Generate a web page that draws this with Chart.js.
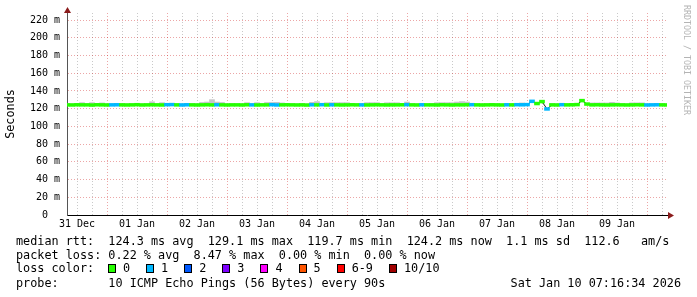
<!DOCTYPE html>
<html>
<head>
<meta charset="utf-8">
<script src="https://cdn.jsdelivr.net/npm/chart.js@4/dist/chart.umd.min.js"></script>
<style>
html, body { margin: 0; padding: 0; background: #fff; }
#wrap { position: relative; width: 697px; height: 297px; overflow: hidden; background: #fff; }
#wrap canvas { position: absolute; left: 0; top: 0; }
.row { position: absolute; left: 16px; font-family: "DejaVu Sans Mono", monospace; font-size: 11.8px; line-height: 14px; white-space: pre; color: #000; }
#swatches { position: absolute; left: 92px; top: 0; display: flex; align-items: center; height: 14px; }
.box { display: inline-block; width: 6px; height: 7px; border: 1px solid #000; margin-right: 7px; }
.lbl { margin-right: 16px; }
#stamp { position: absolute; right: 16px; top: 276px; font-family: "DejaVu Sans Mono", monospace; font-size: 11.8px; line-height: 14px; white-space: pre; color: #000; }
#mark { position: absolute; left: 682px; top: 5px; writing-mode: vertical-rl; font-family: "DejaVu Sans Mono", monospace; font-size: 8.3px; line-height: 10px; color: #b4b4b4; white-space: pre; }
</style>
</head>
<body>
<div id="wrap">
  <canvas id="chart" width="697" height="297"></canvas>
  <div class="row" style="top:234px">median rtt:  124.3 ms avg  129.1 ms max  119.7 ms min  124.2 ms now  1.1 ms sd  112.6   am/s</div>
  <div class="row" style="top:248px">packet loss: 0.22 % avg  8.47 % max  0.00 % min  0.00 % now</div>
  <div class="row" id="lossrow" style="top:261px">loss color:</div>
  <div class="row" style="top:276px">probe:       10 ICMP Echo Pings (56 Bytes) every 90s</div>
  <div id="stamp">Sat Jan 10 07:16:34 2026</div>
  <div id="mark">RRDTOOL / TOBI OETIKER</div>
</div>
<script>
// day labels, centred on noon of each day
const dayLabels = ['31 Dec', '01 Jan', '02 Jan', '03 Jan', '04 Jan', '05 Jan', '06 Jan', '07 Jan', '08 Jan', '09 Jan'];

// median rtt in ms, one sample every 2 hours
const medianMs = [
  124.3, 124.2, 124.4, 124.3, 124.3, 124.1, 124.4, 124.3, 124.2, 124.3,
  124.4, 124.3, 124.2, 124.3, 124.5, 124.2, 124.3, 124.4, 124.3, 124.2,
  124.5, 124.6, 124.3, 124.2, 124.4, 124.3, 124.2, 124.3, 124.4, 124.3,
  124.4, 124.3, 124.2, 124.3, 124.3, 124.2, 124.4, 124.3, 124.2, 124.3,
  124.3, 124.5, 124.2, 124.3, 124.4, 124.3, 124.2, 124.3, 124.1, 124.4,
  124.3, 124.5, 124.2, 124.4, 124.3, 124.2, 124.3, 124.4, 124.3, 124.3,
  124.2, 124.3, 124.4, 124.3, 124.2, 124.3, 124.3, 124.4, 124.5, 124.3,
  124.2, 124.4, 124.3, 124.3, 124.2, 124.4, 124.3, 124.2, 124.3, 124.3,
  124.4, 124.5, 124.3, 124.2, 124.3, 124.4, 124.3, 124.2, 124.4, 124.3,
  124.5, 124.4, 124.6, 128.3, 125.8, 128.0, 119.7, 124.3, 124.2, 124.5,
  124.3, 124.4, 124.6, 129.1, 125.2, 124.3, 124.4, 124.3, 124.2, 124.3,
  124.4, 124.3, 124.2, 124.3, 124.4, 124.3, 124.2, 124.3, 124.4, 124.3, 124.2
];

// highest ping of each sample (grey smoke above the median)
const smokeHighMs = [
  125.5, 125.5, 125.5, 126.8, 125.5, 126.8, 125.5, 126.5, 125.5, 125.5,
  125.5, 125.5, 125.5, 125.5, 125.5, 125.5, 125.5, 127.8, 125.5, 126.8,
  125.5, 125.5, 125.5, 125.5, 125.5, 125.5, 125.5, 127.0, 127.5, 130.2,
  127.5, 127.0, 125.5, 125.5, 125.5, 125.5, 126.8, 125.5, 126.8, 125.5,
  127.0, 127.0, 127.2, 126.5, 125.5, 125.5, 125.5, 125.5, 125.5, 127.2,
  128.0, 125.5, 126.8, 126.8, 126.8, 126.8, 126.8, 125.5, 125.5, 125.5,
  126.8, 126.8, 126.8, 125.5, 126.7, 126.7, 126.7, 125.5, 127.5, 125.5,
  125.5, 125.5, 125.5, 125.5, 126.8, 126.8, 126.8, 126.8, 127.5, 128.0,
  127.5, 125.5, 125.5, 125.5, 125.5, 125.5, 125.5, 125.5, 125.5, 125.5,
  125.5, 126.5, 125.5, 128.3, 125.8, 128.0, 119.7, 125.5, 125.5, 125.5,
  125.5, 125.5, 125.5, 129.1, 125.2, 126.5, 126.5, 126.5, 126.5, 127.2,
  126.5, 125.5, 125.5, 126.6, 126.6, 126.6, 125.5, 125.5, 125.5, 125.5, 125.5
];

// lost pings (out of 10) per sample
const lossPings = [
  0, 0, 0, 0, 0, 0, 0, 0, 0, 1,
  1, 0, 0, 0, 0, 0, 0, 0, 0, 0,
  1, 1, 0, 1, 1, 0, 0, 0, 0, 0,
  1, 0, 0, 0, 0, 0, 0, 1, 0, 0,
  0, 1, 1, 0, 0, 0, 0, 0, 0, 1,
  0, 1, 0, 1, 0, 0, 0, 0, 0, 1,
  0, 0, 0, 0, 0, 0, 0, 0, 1, 0,
  0, 1, 0, 0, 0, 0, 0, 0, 0, 0,
  0, 1, 0, 0, 0, 0, 0, 0, 1, 0,
  1, 1, 1, 1, 0, 0, 1, 0, 0, 1,
  0, 0, 0, 0, 0, 0, 0, 0, 0, 0,
  0, 0, 0, 0, 0, 0, 1, 1, 1, 0, 0
];

const lossLabels = ['0', '1', '2', '3', '4', '5', '6-9', '10/10'];
const lossColors = ['#26ff00', '#00b8ff', '#0059ff', '#7e00ff', '#ff00ff', '#ff5500', '#ff0000', '#a10000'];

const FONT = 'DejaVu Sans Mono';
const majorGrid = 'rgba(200,0,0,0.35)';
const minorGrid = 'rgba(120,120,120,0.4)';
const bandHalf = 1.6;

const hours = medianMs.map((_, i) => i * 2);
const xGridHours = [];
for (let h = 4; h < 240; h += 6) xGridHours.push(h);
const yGridMs = [];
for (let v = 0; v <= 220; v += 10) yGridMs.push(v);

const lossColor = n => n >= 10 ? lossColors[7] : n >= 6 ? lossColors[6] : lossColors[n];

// legend swatches
const sw = document.createElement('div');
sw.id = 'swatches';
lossLabels.forEach((l, i) => {
    const b = document.createElement('span');
    b.className = 'box';
    b.style.background = lossColors[i];
    const t = document.createElement('span');
    t.className = 'lbl';
    t.textContent = l;
    sw.appendChild(b);
    sw.appendChild(t);
});
document.getElementById('lossrow').appendChild(sw);

const axisArrows = {
    id: 'axisArrows',
    afterDraw(chart) {
        const { ctx, chartArea: a } = chart;
        ctx.save();
        ctx.fillStyle = '#8b1c1c';
        ctx.beginPath();
        ctx.moveTo(a.left - 3, a.top);
        ctx.lineTo(a.left + 4, a.top);
        ctx.lineTo(a.left + 0.5, a.top - 6);
        ctx.closePath();
        ctx.fill();
        ctx.strokeStyle = '#000';
        ctx.beginPath();
        ctx.moveTo(a.right, a.bottom + 0.5);
        ctx.lineTo(a.right + 2, a.bottom + 0.5);
        ctx.stroke();
        ctx.beginPath();
        ctx.moveTo(a.right + 1, a.bottom - 3);
        ctx.lineTo(a.right + 1, a.bottom + 4);
        ctx.lineTo(a.right + 7, a.bottom + 0.5);
        ctx.closePath();
        ctx.fill();
        ctx.restore();
    }
};

new Chart('chart', {
    type: 'bar',
    data: {
        datasets: [
            {
                type: 'bar',
                order: 3,
                data: hours.map((h, i) => ({ x: h, y: [medianMs[i], smokeHighMs[i]] })),
                backgroundColor: '#c6c6c6',
                barThickness: 5,
                grouped: false,
                borderWidth: 0
            },
            {
                type: 'line',
                order: 2,
                data: hours.map((h, i) => ({ x: h, y: medianMs[i] })),
                borderColor: '#202020',
                borderWidth: 1,
                pointRadius: 0,
                tension: 0
            },
            {
                type: 'bar',
                order: 1,
                data: hours.map((h, i) => ({ x: h, y: [medianMs[i] - bandHalf, medianMs[i] + bandHalf] })),
                backgroundColor: lossPings.map(lossColor),
                barThickness: 5,
                grouped: false,
                borderWidth: 0
            }
        ]
    },
    options: {
        responsive: false,
        animation: false,
        devicePixelRatio: 1,
        layout: { padding: { top: 13, right: 30, left: 0, bottom: 0 } },
        plugins: { legend: { display: false }, tooltip: { enabled: false } },
        scales: {
            x: {
                type: 'linear',
                min: 0,
                max: 240,
                offset: false,
                afterBuildTicks: s => { s.ticks = xGridHours.map(v => ({ value: v })); },
                afterFit: s => { s.height = 82; },
                grid: {
                    offset: false,
                    drawTicks: false,
                    color: c => ((c.tick.value + 8) % 24 === 0 ? majorGrid : minorGrid)
                },
                border: { color: '#000', width: 1, dash: [1, 2] },
                ticks: {
                    autoSkip: false,
                    maxRotation: 0,
                    padding: 3,
                    color: '#000',
                    font: { family: FONT, size: 10 },
                    callback: v => ((v - 4) % 24 === 0 ? dayLabels[(v - 4) / 24] : '')
                }
            },
            y: {
                min: 0,
                max: 228,
                afterBuildTicks: s => { s.ticks = yGridMs.map(v => ({ value: v })); },
                afterFit: s => { s.width = 67; },
                grid: {
                    drawTicks: false,
                    color: c => (c.tick.value === 0 ? 'rgba(0,0,0,0)' : c.tick.value % 20 === 0 ? majorGrid : minorGrid)
                },
                border: { color: '#555', width: 1, dash: [1, 2] },
                ticks: {
                    padding: 7,
                    color: '#000',
                    font: { family: FONT, size: 10 },
                    callback: v => (v % 20 ? '' : v === 0 ? '0  ' : v + ' m')
                },
                title: {
                    display: true,
                    text: 'Seconds',
                    color: '#000',
                    font: { family: FONT, size: 11.8 },
                    padding: { top: 4, bottom: 0 }
                }
            }
        }
    },
    plugins: [axisArrows]
});
</script>
</body>
</html>
